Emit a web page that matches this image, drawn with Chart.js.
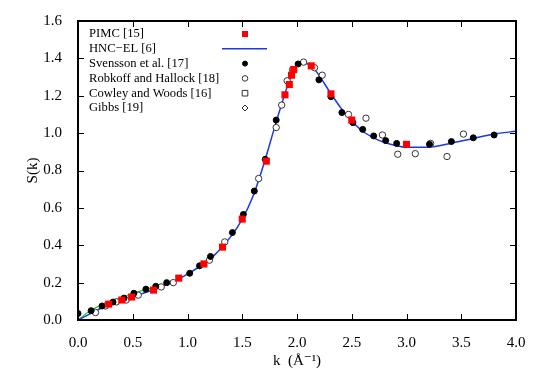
<!DOCTYPE html>
<html>
<head>
<meta charset="utf-8">
<script src="https://cdn.jsdelivr.net/npm/chart.js@4"></script>
<style>
  html, body { margin: 0; padding: 0; background: #fff; }
  #wrap { width: 534px; height: 374px; position: relative; }
</style>
</head>
<body>
<div id="wrap"><canvas id="grafico" width="534" height="374"></canvas></div>
<script>
// ---- dados ----
const pimcK = [0.28, 0.40, 0.49, 0.69, 0.92, 1.15, 1.32, 1.50, 1.72, 1.89, 1.93, 1.95, 1.97, 2.13, 2.31, 2.50, 3.00];
const pimcS = [0.085, 0.107, 0.123, 0.16, 0.224, 0.30, 0.39, 0.54, 0.85, 1.205, 1.26, 1.31, 1.34, 1.36, 1.21, 1.07, 0.94];

const hncK = [0.0, 0.1, 0.2, 0.3, 0.4, 0.5, 0.75, 1.0, 1.25, 1.4, 1.5, 1.6, 1.7, 1.8, 1.9, 1.95, 2.0, 2.05, 2.1, 2.15, 2.2, 2.3, 2.4, 2.5, 2.6, 2.7, 2.8, 3.0, 3.2, 3.4, 3.6, 3.8, 4.0];
const hncS = [0.0, 0.03, 0.06, 0.085, 0.105, 0.125, 0.175, 0.245, 0.35, 0.45, 0.54, 0.665, 0.84, 1.04, 1.23, 1.31, 1.36, 1.375, 1.37, 1.35, 1.31, 1.22, 1.135, 1.065, 1.01, 0.975, 0.95, 0.925, 0.925, 0.945, 0.97, 0.995, 1.01];

const greenK = [0.0, 0.1, 0.2, 0.3, 0.4, 0.5, 0.6, 0.7, 0.78];
const greenS = [0.0, 0.045, 0.077, 0.1, 0.122, 0.142, 0.16, 0.176, 0.19];

const svenK = [0.0, 0.12, 0.22, 0.32, 0.42, 0.51, 0.62, 0.71, 0.81, 1.02, 1.11, 1.21, 1.41, 1.51, 1.61, 1.71, 1.81, 2.01, 2.20, 2.31, 2.41, 2.51, 2.60, 2.70, 2.81, 2.91, 3.21, 3.41, 3.61, 3.80];
const svenS = [0.035, 0.05, 0.075, 0.096, 0.117, 0.143, 0.165, 0.18, 0.20, 0.25, 0.29, 0.34, 0.468, 0.565, 0.69, 0.86, 1.07, 1.37, 1.285, 1.195, 1.11, 1.056, 1.02, 0.985, 0.96, 0.945, 0.94, 0.955, 0.975, 0.99];

const robK = [0.16, 0.25, 0.35, 0.44, 0.55, 0.76, 0.87, 1.2, 1.34, 1.65, 1.81, 1.86, 1.91, 1.96, 2.06, 2.16, 2.23, 2.47, 2.63, 2.78, 2.92, 3.08, 3.22, 3.37, 3.52];
const robS = [0.04, 0.075, 0.097, 0.107, 0.133, 0.177, 0.2, 0.32, 0.418, 0.757, 1.03, 1.15, 1.28, 1.34, 1.38, 1.35, 1.31, 1.10, 1.08, 0.99, 0.887, 0.89, 0.945, 0.875, 0.995];

const cowleyK = [], cowleyS = [];
const gibbsK = [], gibbsS = [];

const xTicks = [0, 0.5, 1.0, 1.5, 2.0, 2.5, 3.0, 3.5, 4.0];
const yTicks = [0, 0.2, 0.4, 0.6, 0.8, 1.0, 1.2, 1.4, 1.6];

const pares = (xs, ys) => xs.map((x, i) => ({ x: x, y: ys[i] }));
const FONTE = '"Liberation Serif", "DejaVu Serif", serif';

// ---- moldura com marcas para dentro e legenda desenhada à mão ----
const moldura = {
    id: 'moldura',
    afterDatasetsDraw(chart) {
        const c = chart.ctx, a = chart.chartArea;
        const sx = chart.scales.x, sy = chart.scales.y;
        c.save();
        c.strokeStyle = '#000';
        c.lineWidth = 2;
        c.strokeRect(a.left, a.top, a.right - a.left, a.bottom - a.top);
        c.lineWidth = 1;
        c.beginPath();
        xTicks.forEach(v => {
            const px = Math.round(sx.getPixelForValue(v)) + 0.5;
            c.moveTo(px, a.bottom); c.lineTo(px, a.bottom - 6);
            c.moveTo(px, a.top); c.lineTo(px, a.top + 6);
        });
        yTicks.forEach(v => {
            const py = Math.round(sy.getPixelForValue(v)) + 0.5;
            c.moveTo(a.left, py); c.lineTo(a.left + 6, py);
            c.moveTo(a.right, py); c.lineTo(a.right - 6, py);
        });
        c.stroke();

        // legenda
        const itens = [0, 1, 2, 3, 4, 5].map(i => chart.data.datasets[i]);
        c.font = '12.6px ' + FONTE;
        c.textBaseline = 'middle';
        itens.forEach((ds, i) => {
            const y = 34 + i * 14.8;
            c.fillStyle = '#000';
            c.fillText(ds.label, 89, y);
            const cx = 245;
            if (ds.showLine) {
                c.strokeStyle = ds.borderColor;
                c.lineWidth = 1.5;
                c.beginPath(); c.moveTo(222, y); c.lineTo(267, y); c.stroke();
                return;
            }
            c.fillStyle = ds.pointBackgroundColor;
            c.strokeStyle = ds.pointBorderColor;
            c.lineWidth = ds.pointBorderWidth || 1;
            c.beginPath();
            if (ds.pointStyle === 'rect') {
                const r = ds.legendSize;
                c.rect(cx - r, y - r, 2 * r, 2 * r);
            } else if (ds.pointStyle === 'rectRot') {
                const r = ds.legendSize;
                c.moveTo(cx, y - r); c.lineTo(cx + r, y); c.lineTo(cx, y + r); c.lineTo(cx - r, y); c.closePath();
            } else {
                c.arc(cx, y, ds.legendSize, 0, Math.PI * 2);
            }
            c.fill();
            if (ds.pointBorderWidth) c.stroke();
        });
        c.restore();
    }
};

const grafico = new Chart(document.getElementById('grafico'), {
    type: 'scatter',
    data: {
        datasets: [
            { label: 'PIMC [15]', data: pares(pimcK, pimcS), pointStyle: 'rect', pointRadius: 5, legendSize: 3,
              pointBackgroundColor: '#ff0000', pointBorderColor: '#ff0000', pointBorderWidth: 0, order: 0 },
            { label: 'HNC\u2212EL [6]', data: pares(hncK, hncS), showLine: true, borderColor: '#1a3ae6',
              borderWidth: 1.5, pointRadius: 0, cubicInterpolationMode: 'monotone', order: 3 },
            { label: 'Svensson et al. [17]', data: pares(svenK, svenS), pointStyle: 'circle', pointRadius: 3, legendSize: 2.5,
              pointBackgroundColor: '#000', pointBorderColor: '#000', pointBorderWidth: 1, order: 1 },
            { label: 'Robkoff and Hallock [18]', data: pares(robK, robS), pointStyle: 'circle', pointRadius: 3.2, legendSize: 2.8,
              pointBackgroundColor: '#fff', pointBorderColor: '#333', pointBorderWidth: 1, order: 2 },
            { label: 'Cowley and Woods [16]', data: pares(cowleyK, cowleyS), pointStyle: 'rect', pointRadius: 4, legendSize: 2.8,
              pointBackgroundColor: '#fff', pointBorderColor: '#333', pointBorderWidth: 1 },
            { label: 'Gibbs [19]', data: pares(gibbsK, gibbsS), pointStyle: 'rectRot', pointRadius: 3, legendSize: 3,
              pointBackgroundColor: '#fff', pointBorderColor: '#333', pointBorderWidth: 1 },
            { label: 'fonon', data: pares(greenK, greenS), showLine: true, borderColor: '#22cc22',
              borderWidth: 1.2, pointRadius: 0, cubicInterpolationMode: 'monotone', order: 4 }
        ]
    },
    options: {
        responsive: false,
        animation: false,
        layout: { padding: { top: 21, right: 18, left: 0, bottom: 0 } },
        plugins: { legend: { display: false }, tooltip: { enabled: false } },
        scales: {
            x: {
                type: 'linear', min: 0, max: 4,
                afterBuildTicks: s => { s.ticks = xTicks.map(v => ({ value: v })); },
                afterFit: s => { s.height = 54; },
                grid: { display: false },
                border: { display: false },
                ticks: { color: '#000', font: { family: FONTE, size: 15 }, padding: 6,
                         callback: v => v.toFixed(1) },
                title: { display: true, text: 'k  (\u00c5\u207b\u00b9)', color: '#000',
                         font: { family: FONTE, size: 15 }, padding: { top: 0 } }
            },
            y: {
                type: 'linear', min: 0, max: 1.6,
                afterBuildTicks: s => { s.ticks = yTicks.map(v => ({ value: v })); },
                afterFit: s => { s.width = 78; },
                grid: { display: false },
                border: { display: false },
                ticks: { color: '#000', font: { family: FONTE, size: 15 }, padding: 8,
                         callback: v => v.toFixed(1) },
                title: { display: true, text: 'S(k)', color: '#000',
                         font: { family: FONTE, size: 15 }, padding: { top: 24, bottom: 0 } }
            }
        }
    },
    plugins: [moldura]
});
</script>
</body>
</html>
